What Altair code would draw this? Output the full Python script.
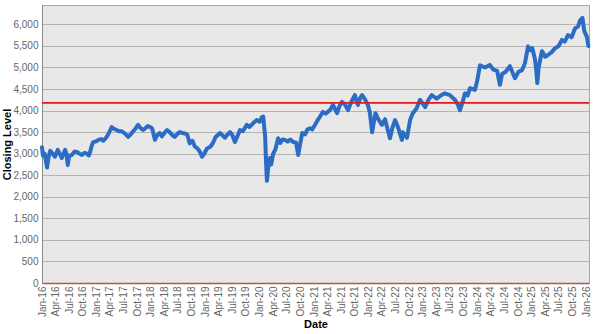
import altair as alt
import pandas as pd

dates = [
    "2016-01-01", "2016-01-07", "2016-01-19", "2016-02-04", "2016-02-13", "2016-02-25",
    "2016-03-13", "2016-03-28", "2016-04-16", "2016-05-01", "2016-05-13", "2016-06-04",
    "2016-06-13", "2016-06-22", "2016-07-01", "2016-07-19", "2016-08-07", "2016-08-22",
    "2016-09-10", "2016-09-25", "2016-10-13", "2016-10-28", "2016-11-10", "2016-11-19",
    "2016-12-01", "2016-12-10",
    "2017-01-01", "2017-01-13", "2017-02-01", "2017-02-15", "2017-03-01", "2017-03-10",
    "2017-03-25", "2017-04-13", "2017-04-25", "2017-05-16", "2017-06-01", "2017-06-19",
    "2017-07-10", "2017-08-01", "2017-08-19", "2017-09-04", "2017-09-19", "2017-10-07",
    "2017-10-22", "2017-11-10", "2017-11-25", "2017-12-10", "2017-12-25",
    "2018-01-10", "2018-01-28", "2018-02-10", "2018-03-01", "2018-03-16", "2018-04-01",
    "2018-04-19", "2018-05-07", "2018-05-25", "2018-06-10", "2018-06-28", "2018-07-13",
    "2018-08-01", "2018-08-16", "2018-09-01", "2018-09-19", "2018-10-07", "2018-10-22",
    "2018-11-07", "2018-11-25", "2018-12-10", "2018-12-25",
    "2019-01-13", "2019-02-04", "2019-02-22", "2019-03-10", "2019-04-10", "2019-04-25",
    "2019-05-13", "2019-06-01", "2019-06-16", "2019-07-01", "2019-07-19", "2019-08-04",
    "2019-08-22", "2019-09-10", "2019-10-07", "2019-10-25", "2019-11-16", "2019-12-13",
    "2020-01-01", "2020-01-16", "2020-01-25", "2020-02-07", "2020-02-13", "2020-02-19",
    "2020-02-28", "2020-03-10", "2020-03-19", "2020-04-01", "2020-04-16", "2020-05-04",
    "2020-05-19", "2020-06-04", "2020-06-19", "2020-07-07", "2020-07-25", "2020-08-13",
    "2020-09-01", "2020-09-16", "2020-09-25", "2020-10-13", "2020-11-01", "2020-11-16",
    "2020-12-04", "2020-12-19",
    "2021-01-07", "2021-01-25", "2021-02-13", "2021-03-01", "2021-03-19", "2021-04-16",
    "2021-05-07", "2021-06-04", "2021-06-19", "2021-07-07", "2021-07-25", "2021-08-16",
    "2021-09-07", "2021-10-01", "2021-10-22", "2021-11-07", "2021-11-19", "2021-12-10",
    "2021-12-28",
    "2022-01-10", "2022-01-25", "2022-02-16", "2022-03-07", "2022-04-01", "2022-04-22",
    "2022-05-10", "2022-05-25", "2022-06-10", "2022-06-28", "2022-07-19", "2022-08-13",
    "2022-08-19", "2022-09-16", "2022-10-07", "2022-10-25", "2022-11-19", "2022-12-13",
    "2023-01-16", "2023-02-07", "2023-03-01", "2023-04-04", "2023-05-01", "2023-05-28",
    "2023-07-01", "2023-07-19", "2023-08-04", "2023-08-22", "2023-09-07", "2023-09-25",
    "2023-10-10", "2023-10-28", "2023-11-13", "2023-12-16",
    "2024-01-01", "2024-01-19", "2024-02-22", "2024-03-25", "2024-04-19", "2024-05-13",
    "2024-06-01", "2024-06-16", "2024-07-10", "2024-08-07", "2024-09-10", "2024-10-04",
    "2024-10-28", "2024-11-16", "2024-12-07", "2024-12-22",
    "2025-01-04", "2025-01-22", "2025-02-01", "2025-02-07", "2025-02-16", "2025-03-10",
    "2025-04-01", "2025-04-19", "2025-05-13", "2025-06-07", "2025-07-01", "2025-07-22",
    "2025-08-10", "2025-09-01", "2025-09-25", "2025-10-19", "2025-11-07", "2025-11-22",
    "2025-12-07", "2025-12-19", "2026-01-07", "2026-01-16",
]

closing = [
    3150, 2950, 3000, 2680, 2900, 3070,
    3000, 2930, 3090, 2980, 2900, 3090,
    3000, 2740, 2950, 2970, 3050, 3040,
    3000, 2970, 3020, 3000, 2960, 3040,
    3200, 3270,
    3290, 3320, 3340, 3300, 3350, 3390,
    3480, 3620, 3580, 3550, 3520, 3520,
    3470, 3390, 3450, 3520, 3580, 3670,
    3600, 3550, 3590, 3640, 3620,
    3580, 3320, 3420, 3480, 3400, 3480,
    3550, 3500, 3430, 3390, 3460, 3500,
    3480, 3470, 3450, 3240, 3300, 3170,
    3130, 3050, 2930, 3000,
    3120, 3160, 3250, 3380, 3480, 3430,
    3370, 3450, 3500, 3440, 3270, 3400,
    3550, 3520, 3670, 3620, 3700, 3780,
    3740, 3850, 3860, 3400, 2800, 2370,
    2700, 2900, 2750, 3000, 3100, 3360,
    3250, 3330, 3320, 3280, 3330, 3270,
    3260, 2970, 3150, 3480, 3450, 3560,
    3590, 3560,
    3670, 3780, 3880, 3970, 3930, 4010,
    4130, 3940, 4100, 4200, 4150, 4010,
    4200, 4360, 4130, 4300, 4360, 4250,
    4130,
    3950, 3500, 3940, 3800, 3670, 3800,
    3550, 3360, 3600, 3780, 3600, 3320,
    3500, 3370, 3780, 3940, 4050, 4250,
    4080, 4250, 4360, 4280, 4350, 4400,
    4360, 4300, 4250, 4150, 4010, 4200,
    4400, 4350, 4520, 4480,
    4700, 5050, 5000, 5060, 4950, 4920,
    4600, 4850, 4900, 5030, 4750, 4900,
    4940, 5100, 5490, 5400,
    5450, 5200, 4900, 4640, 5000, 5380,
    5250, 5290, 5350, 5450, 5500, 5640,
    5600, 5750, 5700, 5910, 5950, 6100,
    6150, 5850, 5700, 5500,
]

threshold = [4180]
y_ticks = list(range(0, 6001, 500))
x_domain = ["2016-01-01", "2026-01-20"]
y_domain = [0, 6450]

df = pd.DataFrame({"Date": pd.to_datetime(dates), "Close": closing})
ref = pd.DataFrame({"Close": threshold})

FONT = "Liberation Sans"

x_enc = alt.X(
    "Date:T",
    title="Date",
    scale=alt.Scale(domain=x_domain, nice=False),
    axis=alt.Axis(
        format="%b-%y",
        tickCount={"interval": "month", "step": 3},
        labelAngle=-90,
        labelFont=FONT,
        labelFontSize=10,
        labelColor="#666666",
        labelPadding=3,
        labelOverlap=False,
        labelFlush=False,
        ticks=False,
        grid=False,
        domainColor="#C0504D",
        domainWidth=1.5,
        titleFont=FONT,
        titleFontSize=11,
        titleFontWeight="bold",
        titleColor="#000000",
        titlePadding=2,
    ),
)

y_axis = alt.Axis(
    values=y_ticks,
    format=",d",
    labelFont=FONT,
    labelFontSize=10,
    labelColor="#666666",
    labelPadding=4,
    labelOverlap=False,
    labelFlush=False,
    ticks=False,
    grid=True,
    gridColor="#B4B4B4",
    gridWidth=1,
    domainColor="#8C8C8C",
    titleFont=FONT,
    titleFontSize=11,
    titleFontWeight="bold",
    titleColor="#000000",
    titleX=-30,
    titleY=139,
)
y_scale = alt.Scale(domain=y_domain, nice=False)

line = alt.Chart(df).mark_line(
    color="#2B6DC4", strokeWidth=4, strokeJoin="round", strokeCap="round"
).encode(x=x_enc, y=alt.Y("Close:Q", title="Closing Level", scale=y_scale, axis=y_axis))

rule = alt.Chart(ref).mark_rule(color="#E31A1C", strokeWidth=1.6).encode(
    y=alt.Y("Close:Q", title="Closing Level", scale=y_scale, axis=y_axis)
)

chart = (
    alt.layer(line, rule)
    .properties(
        width=547,
        height=278,
        background="#FFFFFF",
        padding={"left": 42, "top": 5, "right": 13, "bottom": 51},
        autosize=alt.AutoSizeParams(type="none"),
    )
    .configure_view(fill="#E8E8E8", stroke="#A6A6A6", strokeWidth=1)
)

chart.save("out.html", embed_options={"renderer": "svg", "actions": False})
